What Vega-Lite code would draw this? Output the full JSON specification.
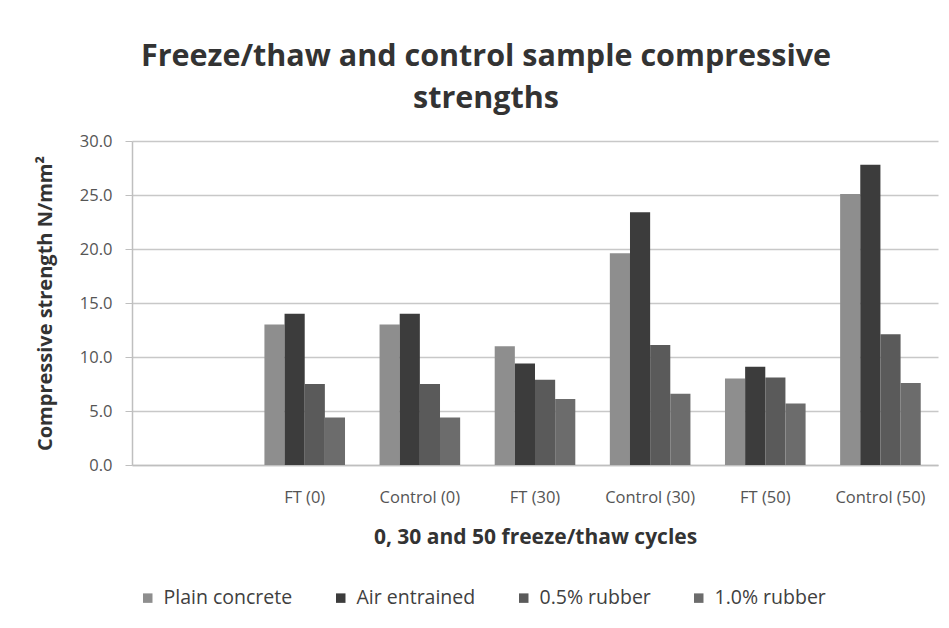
{
  "$schema": "https://vega.github.io/schema/vega-lite/v6.json",
  "autosize": "none",
  "width": 806,
  "height": 324,
  "padding": {"left": 132, "top": 141, "right": 11, "bottom": 163},
  "background": "white",
  "title": {
    "text": ["Freeze/thaw and control sample compressive", "strengths"],
    "anchor": "middle",
    "frame": "group",
    "dx": -49,
    "fontSize": 30.5,
    "font": "Open Sans",
    "fontWeight": "bold",
    "color": "#333333",
    "lineHeight": 42,
    "offset": 19
  },
  "data": {
    "values": [
      {"cycle": "FT (0)", "mix": "Plain concrete", "strength": 13.0},
      {"cycle": "FT (0)", "mix": "Air entrained", "strength": 14.0},
      {"cycle": "FT (0)", "mix": "0.5% rubber", "strength": 7.5},
      {"cycle": "FT (0)", "mix": "1.0% rubber", "strength": 4.4},
      {"cycle": "Control (0)", "mix": "Plain concrete", "strength": 13.0},
      {"cycle": "Control (0)", "mix": "Air entrained", "strength": 14.0},
      {"cycle": "Control (0)", "mix": "0.5% rubber", "strength": 7.5},
      {"cycle": "Control (0)", "mix": "1.0% rubber", "strength": 4.4},
      {"cycle": "FT (30)", "mix": "Plain concrete", "strength": 11.0},
      {"cycle": "FT (30)", "mix": "Air entrained", "strength": 9.4},
      {"cycle": "FT (30)", "mix": "0.5% rubber", "strength": 7.9},
      {"cycle": "FT (30)", "mix": "1.0% rubber", "strength": 6.1},
      {"cycle": "Control (30)", "mix": "Plain concrete", "strength": 19.6},
      {"cycle": "Control (30)", "mix": "Air entrained", "strength": 23.4},
      {"cycle": "Control (30)", "mix": "0.5% rubber", "strength": 11.1},
      {"cycle": "Control (30)", "mix": "1.0% rubber", "strength": 6.6},
      {"cycle": "FT (50)", "mix": "Plain concrete", "strength": 8.0},
      {"cycle": "FT (50)", "mix": "Air entrained", "strength": 9.1},
      {"cycle": "FT (50)", "mix": "0.5% rubber", "strength": 8.1},
      {"cycle": "FT (50)", "mix": "1.0% rubber", "strength": 5.7},
      {"cycle": "Control (50)", "mix": "Plain concrete", "strength": 25.1},
      {"cycle": "Control (50)", "mix": "Air entrained", "strength": 27.8},
      {"cycle": "Control (50)", "mix": "0.5% rubber", "strength": 12.1},
      {"cycle": "Control (50)", "mix": "1.0% rubber", "strength": 7.6}
    ]
  },
  "mark": {"type": "bar"},
  "encoding": {
    "x": {
      "field": "cycle",
      "type": "nominal",
      "scale": {
        "domain": [" ", "FT (0)", "Control (0)", "FT (30)", "Control (30)", "FT (50)", "Control (50)"],
        "paddingInner": 0.3,
        "paddingOuter": 0.15
      },
      "axis": {
        "title": "0, 30 and 50 freeze/thaw cycles",
        "titleFont": "Open Sans",
        "titleFontSize": 21,
        "titleFontWeight": "bold",
        "titleColor": "#333333",
        "titlePadding": 21,
        "labelAngle": 0,
        "labelFont": "Open Sans",
        "labelFontSize": 16.5,
        "labelColor": "#555555",
        "labelPadding": 24,
        "ticks": false,
        "domainColor": "#bfbfbf",
        "domainWidth": 1.5,
        "grid": false
      }
    },
    "xOffset": {
      "field": "mix",
      "type": "nominal",
      "sort": ["Plain concrete", "Air entrained", "0.5% rubber", "1.0% rubber"],
      "scale": {"paddingInner": 0, "paddingOuter": 0}
    },
    "y": {
      "field": "strength",
      "type": "quantitative",
      "scale": {"domain": [0, 30], "nice": false},
      "axis": {
        "title": "Compressive strength N/mm²",
        "titleFont": "Open Sans",
        "titleFontSize": 20,
        "titleFontWeight": "bold",
        "titleColor": "#333333",
        "titlePadding": 24,
        "values": [0, 5, 10, 15, 20, 25, 30],
        "format": ".1f",
        "labelFont": "Open Sans",
        "labelFontSize": 16.5,
        "labelColor": "#555555",
        "labelPadding": 13,
        "tickColor": "#bfbfbf",
        "tickSize": 7,
        "domainColor": "#bfbfbf",
        "domainWidth": 1.5,
        "gridColor": "#c8c8c8",
        "gridWidth": 1.5
      }
    },
    "color": {
      "field": "mix",
      "type": "nominal",
      "sort": ["Plain concrete", "Air entrained", "0.5% rubber", "1.0% rubber"],
      "scale": {
        "domain": ["Plain concrete", "Air entrained", "0.5% rubber", "1.0% rubber"],
        "range": ["#8e8e8e", "#3c3c3c", "#5a5a5a", "#6c6c6c"]
      },
      "legend": {
        "title": null,
        "orient": "none",
        "direction": "horizontal",
        "legendX": 6,
        "legendY": 447,
        "symbolType": "square",
        "symbolSize": 90,
        "symbolStrokeWidth": 0,
        "labelFont": "Open Sans",
        "labelFontSize": 19.5,
        "labelColor": "#404040",
        "labelOffset": 6,
        "columnPadding": 38,
        "labelLimit": 300
      }
    }
  },
  "config": {
    "view": {"stroke": null}
  }
}
